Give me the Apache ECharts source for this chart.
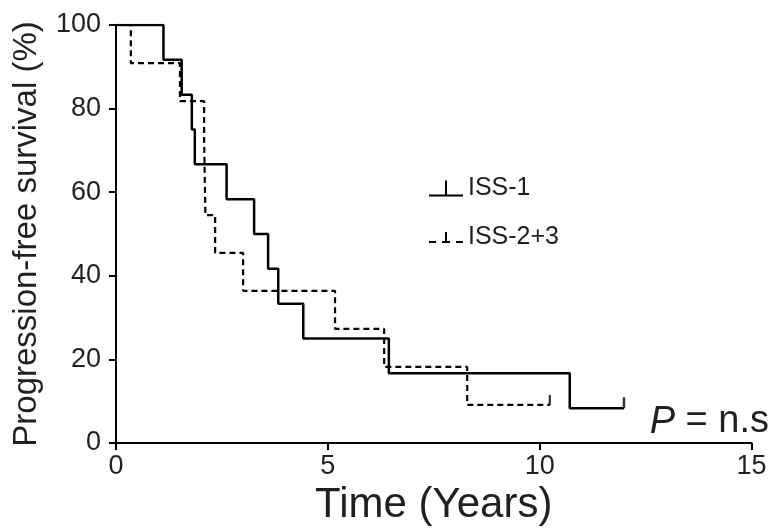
<!DOCTYPE html>
<html>
<head>
<meta charset="utf-8">
<script src="https://cdn.jsdelivr.net/npm/echarts@6/dist/echarts.min.js"></script>
<style>html,body{margin:0;padding:0;background:#fff;}#c{width:779px;height:528px;}</style>
</head>
<body>
<div id="c"></div>
<script>
// Kaplan-Meier step data (time in years, survival %)
var iss1Times = [0, 1.12, 1.55, 1.79, 1.86, 2.61, 3.26, 3.59, 3.83, 4.42, 6.44, 10.71, 11.99];
var iss1Surv  = [100, 91.7, 83.3, 75.0, 66.7, 58.3, 50.0, 41.7, 33.3, 25.0, 16.7, 8.3, 8.3];
var iss23Times = [0, 0.35, 1.51, 2.08, 2.11, 2.34, 3.00, 5.17, 6.33, 8.29, 10.24];
var iss23Surv  = [100, 90.9, 81.8, 72.7, 54.5, 45.5, 36.4, 27.3, 18.2, 9.1, 9.1];
var iss1CensorTimes = [11.99];
var iss1CensorSurv = [8.3];
var iss23CensorTimes = [10.24];
var iss23CensorSurv = [9.1];
var xTicks = [0, 5, 10, 15];
var yTicks = [0, 20, 40, 60, 80, 100];
var seriesNames = ['ISS-1', 'ISS-2+3'];

function pairs(a, b) { return a.map(function (t, i) { return [t, b[i]]; }); }

var FONT = 'Liberation Sans, Arial, sans-serif';
var TXT = '#231f20';

var chart = echarts.init(document.getElementById('c'), null, {renderer: 'canvas'});
chart.setOption({
  animation: false,
  backgroundColor: '#fff',
  grid: {left: 116, right: 27.5, top: 25, bottom: 85, containLabel: false, outerBoundsMode: 'none'},
  title: {
    text: '{i|P} = n.s',
    right: 5, top: 398,
    textStyle: {
      fontFamily: FONT, fontSize: 38, fontWeight: 'normal', color: TXT,
      rich: {i: {fontFamily: FONT, fontSize: 38, fontStyle: 'italic', color: TXT}}
    }
  },
  legend: {
    orient: 'vertical',
    left: 424, top: 171,
    itemWidth: 34, itemHeight: 16, itemGap: 24,
    textStyle: {fontFamily: FONT, fontSize: 25, color: TXT},
    data: [
      {name: seriesNames[0], icon: 'path://M0,14H34V16H0Z M16,0H18V14H16Z'},
      {name: seriesNames[1], icon: 'path://M0,14H7V16H0Z M13,14H21V16H13Z M27,14H34V16H27Z M16,5H18V14H16Z'}
    ]
  },
  xAxis: {
    type: 'value', min: 0, max: 15, interval: 5,
    name: 'Time (Years)', nameLocation: 'middle', nameGap: 33,
    nameTextStyle: {fontFamily: FONT, fontSize: 42, color: TXT},
    axisLine: {show: true, lineStyle: {color: '#000', width: 2}},
    axisTick: {show: true, length: 7, lineStyle: {color: '#000', width: 2}},
    axisLabel: {fontFamily: FONT, fontSize: 27, color: TXT, margin: 10,
      formatter: function (v) { return xTicks.indexOf(v) >= 0 ? String(v) : ''; }},
    splitLine: {show: false}
  },
  yAxis: {
    type: 'value', min: 0, max: 100, interval: 20,
    name: 'Progression-free survival (%)', nameLocation: 'middle', nameGap: 73,
    nameTextStyle: {fontFamily: FONT, fontSize: 33, color: TXT},
    axisLine: {show: true, lineStyle: {color: '#000', width: 2}},
    axisTick: {show: true, length: 7, lineStyle: {color: '#000', width: 2}},
    axisLabel: {fontFamily: FONT, fontSize: 27, color: TXT, margin: 15,
      formatter: function (v) { return yTicks.indexOf(v) >= 0 ? String(v) : ''; }},
    splitLine: {show: false}
  },
  series: [
    {
      name: seriesNames[0], type: 'line', step: 'end', symbol: 'none',
      color: '#000',
      lineStyle: {color: '#000', width: 2.5, type: 'solid'},
      data: pairs(iss1Times, iss1Surv), z: 3
    },
    {
      name: seriesNames[1], type: 'line', step: 'end', symbol: 'none',
      color: '#000',
      lineStyle: {color: '#000', width: 2.2, type: [6, 4]},
      data: pairs(iss23Times, iss23Surv), z: 2
    },
    {
      name: seriesNames[0] + ' censored', type: 'scatter', symbol: 'rect',
      symbolSize: [2.5, 11], symbolOffset: [0, -5.5],
      itemStyle: {color: '#000'}, data: pairs(iss1CensorTimes, iss1CensorSurv), z: 4
    },
    {
      name: seriesNames[1] + ' censored', type: 'scatter', symbol: 'rect',
      symbolSize: [2.2, 10], symbolOffset: [0, -5],
      itemStyle: {color: '#000'}, data: pairs(iss23CensorTimes, iss23CensorSurv), z: 4
    }
  ]
});
</script>
</body>
</html>
